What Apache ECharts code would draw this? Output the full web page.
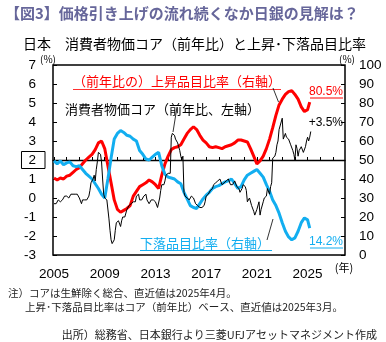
<!DOCTYPE html>
<html><head><meta charset="utf-8">
<script src="https://cdn.jsdelivr.net/npm/echarts@6/dist/echarts.min.js"></script>
<style>html,body{margin:0;padding:0;background:#fff}#c{width:386px;height:342px}</style>
</head><body><div id="c"></div>
<script>
// x-axis labels / ticks
const yearLabels = [2005, 2009, 2013, 2017, 2021, 2025];
const yearTicks = [2005,2006,2007,2008,2009,2010,2011,2012,2013,2014,2015,2016,2017,2018,2019,2020,2021,2022,2023,2024,2025,2026,2027];

// Core CPI y/y (%), monthly, Jan 2005 - Apr 2025 (left axis)
const coreCPI = [
 -0.3,-0.4,-0.3,-0.2,-0.1,-0.2,-0.2,-0.1,-0.1,0.0,0.1,0.1,
 0.1,0.1,0.0,0.1,0.2,0.2,0.2,0.3,0.2,0.1,0.2,0.1,
 0.0,-0.1,-0.3,-0.1,-0.1,-0.1,-0.1,-0.1,-0.1,0.1,0.4,0.8,
 0.8,1.0,1.2,0.9,1.5,1.9,2.4,2.4,2.3,1.9,1.0,0.2,
 0.0,0.0,-0.1,-0.1,-1.1,-1.7,-2.2,-2.4,-2.3,-2.2,-1.7,-1.3,
 -1.3,-1.2,-1.2,-1.5,-1.2,-1.0,-1.1,-1.0,-1.1,-0.6,-0.5,-0.4,
 -0.4,-0.3,-0.2,-0.2,-0.1,-0.2,0.1,0.2,0.2,-0.1,-0.2,-0.1,
 -0.1,0.1,0.2,0.2,-0.1,-0.2,-0.3,-0.3,-0.1,0.0,-0.1,-0.2,
 -0.2,-0.3,-0.5,-0.4,0.0,0.4,0.7,0.8,0.7,0.9,1.2,1.3,
 1.3,1.3,1.3,3.2,3.4,3.3,3.3,3.1,3.0,2.9,2.7,2.5,
 2.2,2.0,2.2,0.3,0.1,0.1,0.0,-0.1,-0.1,-0.1,0.1,0.1,
 0.0,0.0,-0.3,-0.3,-0.4,-0.4,-0.5,-0.5,-0.5,-0.4,-0.4,-0.2,
 0.1,0.2,0.2,0.3,0.4,0.4,0.5,0.7,0.7,0.8,0.9,0.9,
 0.9,1.0,0.9,0.7,0.7,0.8,0.8,0.9,1.0,1.0,0.9,0.7,
 0.8,0.7,0.8,0.9,0.8,0.6,0.6,0.5,0.3,0.4,0.5,0.7,
 0.8,0.6,0.4,-0.2,-0.2,0.0,0.0,-0.4,-0.3,-0.7,-0.9,-1.0,
 -0.6,-0.5,-0.2,-0.9,-0.6,-0.5,-0.2,0.0,0.1,0.1,0.5,0.5,
 0.2,0.6,0.8,2.1,2.1,2.2,2.4,2.8,3.0,3.6,3.7,4.0,
 4.2,3.1,3.1,3.4,3.2,3.3,3.1,3.1,2.8,2.9,2.5,2.3,
 2.0,2.8,2.6,2.2,2.5,2.6,2.7,2.8,2.4,2.3,2.7,3.0,
 3.2,3.0,3.2,3.5
];

// Share of rising items (%), quarterly Jan 2005 - Oct 2024, then Jan 2025, Mar 2025 (right axis)
const upRatio = [
 40.5,39.5,40.5,40, 41.5,42,43.5,45, 46,48,50,51.5, 53,55.5,59,60,
 56,47,38,29, 24,22.5,23.5,24.5, 26,31,33.5,36, 37,38,39.5,38.5,
 37,35,42,48, 52,55.5,56.5,57, 58,61,64,66, 67.5,66,63,60.5,
 59,57,56.5,57, 56.5,56,57,57.5, 58,59,60.5,60.5, 60,59.5,56,52,
 48,49.5,52,56, 61,67,73.5,79, 82,84.5,86,86.5, 84.5,82,78,75.5,
 76.5,80.5
];
// Share of falling items (%), same dates (right axis)
const downRatio = [
 49.5,48,49.5,47.5, 48.5,49,47,46.5, 47,45,43,41.5, 40,37.5,35,32,
 30,40,51,61, 64,65.5,64.5,63, 62.5,61,60,55, 53,50.5,50,51.5,
 53,54,47,42.5, 41,40.5,40,38.5, 37.5,33,29.5,26, 25,24.5,27,29.5,
 31.5,33,35,36, 36.5,37.5,38.5,39, 40,37.5,35,36, 39.5,42,43,44,
 45,43,41,37, 33.5,29,26,22, 17,12.5,9.5,8, 9,12.5,17,19.5,
 18.5,14.2
];

const coreDates = coreCPI.map((v, i) => 2005 + i / 12);
const ratioDates = [];
for (let y = 2005; y <= 2024; y++) for (const m of [1, 4, 7, 10]) ratioDates.push(y + (m - 1) / 12);
ratioDates.push(2025, 2025 + 2 / 12);

const JP = '"Noto Sans CJK JP"';
const NUM = '"Liberation Sans", Arial, sans-serif';

const chart = echarts.init(document.getElementById('c'));
chart.setOption({
  animation: false,
  backgroundColor: '#fff',
  grid: { left: 53, right: 41, top: 65, bottom: 87, containLabel: false, outerBoundsMode: 'none',
          show: true, borderColor: '#000', borderWidth: 1.5, backgroundColor: 'transparent' },
  xAxis: [
    { type: 'value', min: 2004.92, max: 2027.95, position: 'bottom',
      axisLine: { show: false, onZero: false }, axisTick: { show: false }, splitLine: { show: false },
      axisLabel: { customValues: yearLabels, margin: 12, fontSize: 13.5, fontFamily: NUM, color: '#000',
                   formatter: v => String(Math.round(v)) } },
    { type: 'value', min: 2004.92, max: 2027.95, position: 'bottom',
      axisLine: { show: true, onZero: true, onZeroAxisIndex: 2, lineStyle: { color: '#000', width: 1.3 } },
      axisTick: { show: true, inside: true, length: 3, customValues: yearTicks, lineStyle: { color: '#000', width: 1 } },
      axisLabel: { show: false }, splitLine: { show: false } }
  ],
  yAxis: [
    { type: 'value', min: -3, max: 7, interval: 1, position: 'left',
      axisLine: { show: false, onZero: false }, splitLine: { show: false },
      axisTick: { show: true, inside: true, length: 4, lineStyle: { color: '#000', width: 1 } },
      axisLabel: { margin: 8, color: '#000', fontSize: 13.5, fontFamily: NUM,
        formatter: v => v === 2 ? '{b|2}' : '{n|' + v + '}',
        rich: {
          n: { fontSize: 13.5, fontFamily: NUM, color: '#000', padding: [0, 9, 0, 0] },
          b: { fontSize: 13.5, fontFamily: NUM, color: '#000', lineHeight: 14, borderColor: '#000', borderWidth: 1, padding: [2, 9, 1, 7] }
        } } },
    { type: 'value', min: 0, max: 100, interval: 10, position: 'right',
      axisLine: { show: false, onZero: false }, splitLine: { show: false },
      axisTick: { show: true, inside: true, length: 4, lineStyle: { color: '#000', width: 1 } },
      axisLabel: { margin: 14, color: '#000', fontSize: 13.5, fontFamily: NUM } },
    { type: 'value', min: -5, max: 5, show: false }
  ],
  series: [
    { name: 'up', type: 'line', yAxisIndex: 1, showSymbol: false, z: 2,
      lineStyle: { color: '#ff0000', width: 3 }, itemStyle: { color: '#ff0000' },
      data: ratioDates.map((d, i) => [d, upRatio[i]]) },
    { name: 'down', type: 'line', yAxisIndex: 1, showSymbol: false, z: 2,
      lineStyle: { color: '#12aef0', width: 3 }, itemStyle: { color: '#12aef0' },
      data: ratioDates.map((d, i) => [d, downRatio[i]]) },
    { name: 'core', type: 'line', yAxisIndex: 0, showSymbol: false, z: 3,
      lineStyle: { color: '#000', width: 1 }, itemStyle: { color: '#000' },
      data: coreDates.map((d, i) => [d, coreCPI[i]]) }
  ],
  graphic: [
    { type: 'text', x: 5, y: 13, style: { text: '【図3】価格引き上げの流れ続くなか日銀の見解は？', font: 'bold 15px ' + JP, fill: '#66669a', verticalAlign: 'middle' } },
    { type: 'text', x: 23, y: 44, style: { text: '日本　消費者物価コア（前年比）と上昇･下落品目比率', font: '14px ' + JP, fill: '#000', verticalAlign: 'middle' } },
    { type: 'text', x: 48, y: 59, style: { text: '(%)', font: '10px ' + JP, fill: '#000', align: 'center', verticalAlign: 'middle' } },
    { type: 'text', x: 347, y: 59, style: { text: '(%)', font: '10px ' + JP, fill: '#000', align: 'center', verticalAlign: 'middle' } },
    { type: 'text', x: 344, y: 268, style: { text: '(年)', font: '11px ' + JP, fill: '#000', align: 'center', verticalAlign: 'middle' } },
    // annotations
    { type: 'text', x: 73, y: 81, style: { text: '（前年比の）上昇品目比率（右軸）', font: '13px ' + JP, fill: '#ff0000', verticalAlign: 'middle' } },
    { type: 'line', shape: { x1: 73, y1: 89.5, x2: 281, y2: 89.5 }, style: { stroke: '#ff3030', lineWidth: 1 } },
    { type: 'text', x: 65, y: 109, style: { text: '消費者物価コア（前年比、左軸）', font: '13px ' + JP, fill: '#000', verticalAlign: 'middle' } },
    { type: 'text', x: 140, y: 243, style: { text: '下落品目比率（右軸）', font: '13px ' + JP, fill: '#12aef0', verticalAlign: 'middle' } },
    { type: 'line', shape: { x1: 140, y1: 250.5, x2: 272, y2: 250.5 }, style: { stroke: '#12aef0', lineWidth: 1 } },
    { type: 'text', x: 343, y: 92, style: { text: '80.5%', font: '12px ' + NUM, fill: '#ff0000', align: 'right', verticalAlign: 'middle' } },
    { type: 'line', shape: { x1: 310, y1: 98, x2: 343, y2: 98 }, style: { stroke: '#ff0000', lineWidth: 1 } },
    { type: 'text', x: 343, y: 123, style: { text: '+3.5%', font: '12px ' + NUM, fill: '#000', align: 'right', verticalAlign: 'middle' } },
    { type: 'text', x: 343, y: 242, style: { text: '14.2%', font: '12px ' + NUM, fill: '#12aef0', align: 'right', verticalAlign: 'middle' } },
    { type: 'line', shape: { x1: 310, y1: 248, x2: 343, y2: 248 }, style: { stroke: '#12aef0', lineWidth: 1 } },
    // leader lines
    { type: 'line', shape: { x1: 273, y1: 88, x2: 278.5, y2: 102 }, style: { stroke: '#000', lineWidth: 0.8 } },
    { type: 'line', shape: { x1: 177, y1: 107, x2: 173, y2: 132 }, style: { stroke: '#000', lineWidth: 0.8 } },
    { type: 'line', shape: { x1: 273, y1: 219, x2: 267, y2: 240 }, style: { stroke: '#000', lineWidth: 0.8 } },
    // notes
    { type: 'text', x: 8, y: 293, style: { text: '注）コアは生鮮除く総合、直近値は2025年4月。', font: '10.5px ' + JP, fill: '#222', verticalAlign: 'middle' } },
    { type: 'text', x: 25, y: 307, style: { text: '上昇･下落品目比率はコア（前年比）ベース、直近値は2025年3月。', font: '10.5px ' + JP, fill: '#222', verticalAlign: 'middle' } },
    { type: 'text', x: 377, y: 335, style: { text: '出所）総務省、日本銀行より三菱UFJアセットマネジメント作成', font: '11px ' + JP, fill: '#222', align: 'right', verticalAlign: 'middle' } }
  ]
});
</script>
</body></html>
